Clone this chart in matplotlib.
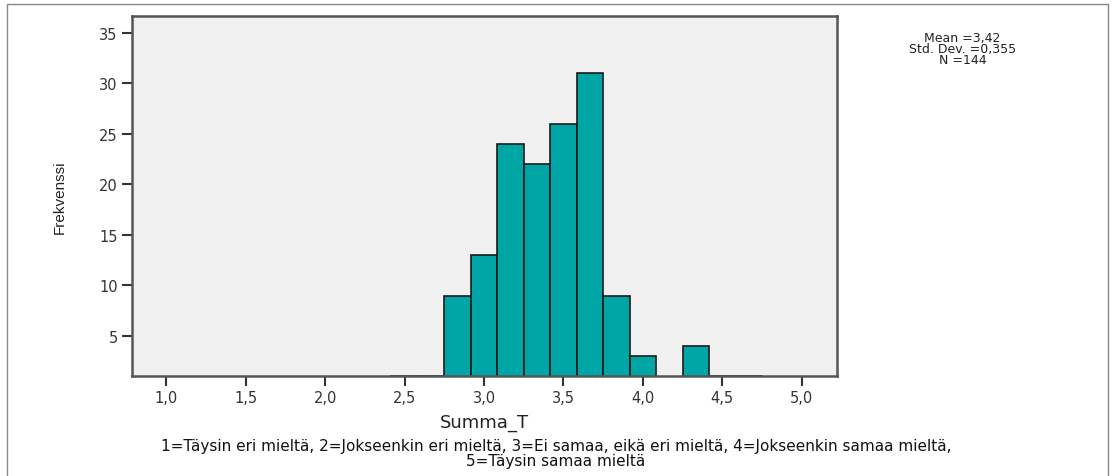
import matplotlib
matplotlib.use('Agg')
import matplotlib.pyplot as plt

plt.rcParams['font.family'] = ['DejaVu Sans']

# histogram of Summa_T, bin width 1/6
bin_start = 2.4166667
bin_width = 1 / 6
counts = [1, 1, 9, 13, 24, 22, 26, 31, 9, 3, 0, 4, 1, 1]
x_ticks = [1.0, 1.5, 2.0, 2.5, 3.0, 3.5, 4.0, 4.5, 5.0]
y_ticks = [5, 10, 15, 20, 25, 30, 35]
stats_text = "Mean =3,42\nStd. Dev. =0,355\nN =144"
footnote = ("1=Täysin eri mieltä, 2=Jokseenkin eri mieltä, 3=Ei samaa, eikä eri mieltä, "
            "4=Jokseenkin samaa mieltä,\n5=Täysin samaa mieltä")

fig = plt.figure(figsize=(11.12, 4.77), dpi=100)
ax = fig.add_axes([0.1184, 0.2103, 0.634, 0.7547])
ax.set_facecolor('#f0f0f0')

lefts = [bin_start + i * bin_width for i in range(len(counts))]
ax.bar(lefts, counts, width=bin_width, align='edge', color='#00a5a5',
       edgecolor='#1a1a1a', linewidth=1.2, zorder=2)

ax.set_xlim(0.781, 5.22)
ax.set_ylim(1.07, 36.7)
ax.set_xticks(x_ticks)
ax.set_xticklabels([('%.1f' % v).replace('.', ',') for v in x_ticks])
ax.set_yticks(y_ticks)
ax.tick_params(direction='out', length=7, width=1.5, color='#333333',
               labelsize=10.5, labelcolor='#333333', pad=3)
for s in ax.spines.values():
    s.set_color('#555555')
    s.set_linewidth(1.8)

ax.set_xlabel('Summa_T', fontsize=13, color='#222222', labelpad=6)
fig.text(0.054, 0.587, 'Frekvenssi', rotation=90, ha='center', va='center',
         fontsize=11, family=['Liberation Sans Narrow', 'Liberation Sans'], color='#222222')

fig.text(0.8656, 0.896, stats_text, ha='center', va='center', fontsize=9,
         linespacing=0.8, color='#222222')
fig.text(0.5, 0.049, footnote, ha='center', va='center', fontsize=11,
         linespacing=1.0, color='#111111')

# outer frame
fig.add_artist(plt.Line2D([0.006, 0.006, 0.996, 0.996], [0.0, 0.99, 0.99, 0.0],
                          transform=fig.transFigure, color='#888888', linewidth=1))

fig.savefig('out.png', dpi=100)
